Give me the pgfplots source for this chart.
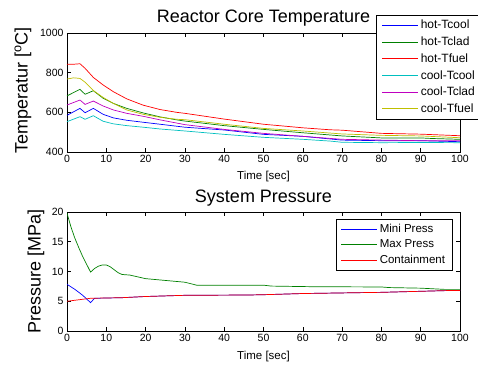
\documentclass[border=0pt]{standalone}
\usepackage{fontspec}
\setmainfont{Liberation Sans}
\usepackage{pgfplots}
\pgfplotsset{compat=1.18}
\definecolor{matBlue}{RGB}{0,0,255}
\definecolor{matGreen}{RGB}{0,128,0}
\definecolor{matRed}{RGB}{255,0,0}
\definecolor{matCyan}{RGB}{0,191,191}
\definecolor{matMag}{RGB}{191,0,191}
\definecolor{matYel}{RGB}{191,191,0}
\pgfplotsset{
  mstyle/.style={
    scale only axis, width=393pt, height=119pt,
    xmin=0, xmax=100, xtick={0,10,...,100},
    tick align=inside, major tick length=4pt,
    axis line style={line width=0.6pt},
    every tick/.style={black, line width=0.6pt},
    /pgf/number format/assume math mode=true,
    /pgf/number format/set thousands separator={},
    tick label style={font=\fontsize{10.5}{12}\selectfont},
    xlabel={Time [sec]},
    xlabel style={font=\fontsize{11.5}{13}\selectfont, at={(axis description cs:0.5,-0.205)}, anchor=center},
    title style={font=\fontsize{18}{20}\selectfont, anchor=base},
    ylabel style={font=\fontsize{18}{20}\selectfont, anchor=center, rotate=0},
    legend cell align=left,
    legend image code/.code={\draw[line width=0.9pt,#1] (0pt,0pt) -- (36pt,0pt);},
    every axis plot/.append style={line width=0.7pt},
    scaled ticks=false,
  }
}
\begin{document}
\begin{tikzpicture}
\useasboundingbox (0,0) rectangle (478pt,368pt);
\begin{axis}[mstyle,
  at={(67pt,216pt)}, anchor=south west,
  ymin=400, ymax=1000, ytick={400,600,800,1000},
  title={Reactor Core Temperature},
  title style={at={(axis description cs:0.5,1.042)}},
  ylabel={Temperatur [$^{\mathrm{o}}$C]},
  ylabel style={at={(axis description cs:-0.112,0.517)}},
  legend style={at={(axis description cs:0.7855,1.151)}, anchor=north west,
    font=\fontsize{12}{12}\selectfont,
    row sep=2.5pt, inner xsep=6pt, inner ysep=3pt,
    nodes={inner sep=2pt}},
]
\addplot[draw=matBlue] coordinates {(0,585)(3.3,620)(4.6,598)(6.7,620)(9.2,590)(11.8,572)(15.2,560)(19.4,550)(23.7,540)(30,525)(40,511)(50,489)(60,479)(70,460)(80,457)(90,457)(100,452)};
\addlegendentry{hot-Tcool}
\addplot[draw=matGreen] coordinates {(0,683)(3.3,716)(4.6,691)(6.7,709)(9.2,671)(11.8,645)(15.2,620)(19.4,597)(23.7,577)(27.9,562)(30,556)(40,533)(50,514)(60,497)(70,481)(80,471)(90,471)(93,468)(100,464)};
\addlegendentry{hot-Tclad}
\addplot[draw=matRed] coordinates {(0,842)(2,843)(3.3,845)(4.6,822)(6.7,776)(9.2,738)(11.8,704)(15.2,668)(19.4,636)(23.7,614)(27.9,600)(30,595)(40,566)(50,540)(60,522)(67,512)(70,510)(80,494)(90,490)(100,482)};
\addlegendentry{hot-Tfuel}
\addplot[draw=matCyan] coordinates {(0,553)(3.3,578)(4.6,565)(6.7,583)(9.2,555)(11.8,542)(15.2,533)(19.4,525)(23.7,516)(30,506)(40,489)(50,474)(60,464)(67,455)(70,449)(80,447)(90,448)(100,447)};
\addlegendentry{cool-Tcool}
\addplot[draw=matMag] coordinates {(0,637)(3.3,662)(4.6,640)(6.7,657)(9.2,632)(11.8,612)(15.2,595)(19.4,580)(23.7,562)(30,538)(40,514)(50,494)(60,479)(70,464)(80,460)(90,457)(100,457)};
\addlegendentry{cool-Tclad}
\addplot[draw=matYel] coordinates {(0,768)(1.7,774)(3.3,771)(4.6,752)(6.7,710)(9.2,675)(11.8,645)(15.2,612)(19.4,590)(23.7,575)(27.9,565)(30,563)(40,540)(50,519)(60,506)(70,491)(80,484)(90,481)(100,472)};
\addlegendentry{cool-Tfuel}
\end{axis}
\begin{axis}[mstyle,
  at={(67pt,37pt)}, anchor=south west,
  ymin=0, ymax=20, ytick={0,5,10,15,20},
  title={System Pressure},
  title style={at={(axis description cs:0.5,1.03)}},
  ylabel={Pressure [MPa]},
  ylabel style={at={(axis description cs:-0.0789,0.504)}},
  xlabel style={at={(axis description cs:0.5,-0.218)}},
  legend style={at={(axis description cs:0.6837,0.941)}, anchor=north west,
    font=\fontsize{11.5}{12}\selectfont,
    row sep=2pt, inner xsep=5pt, inner ysep=3pt,
    nodes={inner sep=2pt}},
]
\addplot[draw=matBlue] coordinates {(0,7.85)(2,7.0)(4,6.0)(6,4.76)(7,5.5)(14,5.6)(20,5.8)(30,6.0)(46,6.05)(50,6.1)(60,6.3)(80,6.5)(97,6.8)(100,6.8)};
\addlegendentry{Mini Press}
\addplot[draw=matGreen] coordinates {(0,19.8)(1,17.5)(2,15.6)(3,14)(4,12.5)(5,11.2)(6,9.9)(7,10.5)(8,10.9)(9,11.1)(10,11.1)(11,10.8)(12,10.3)(13,9.8)(14,9.5)(16,9.4)(20,8.8)(25,8.5)(30,8.2)(33,7.7)(50,7.7)(52,7.55)(62,7.45)(80,7.4)(82,7.3)(90,7.2)(96,7.0)(100,7.0)};
\addlegendentry{Max Press}
\addplot[draw=matRed] coordinates {(0,5.0)(6,5.5)(14,5.6)(20,5.8)(30,6.0)(46,6.05)(50,6.1)(60,6.3)(80,6.5)(97,6.8)(100,6.8)};
\addlegendentry{Containment}
\end{axis}
\end{tikzpicture}
\end{document}
